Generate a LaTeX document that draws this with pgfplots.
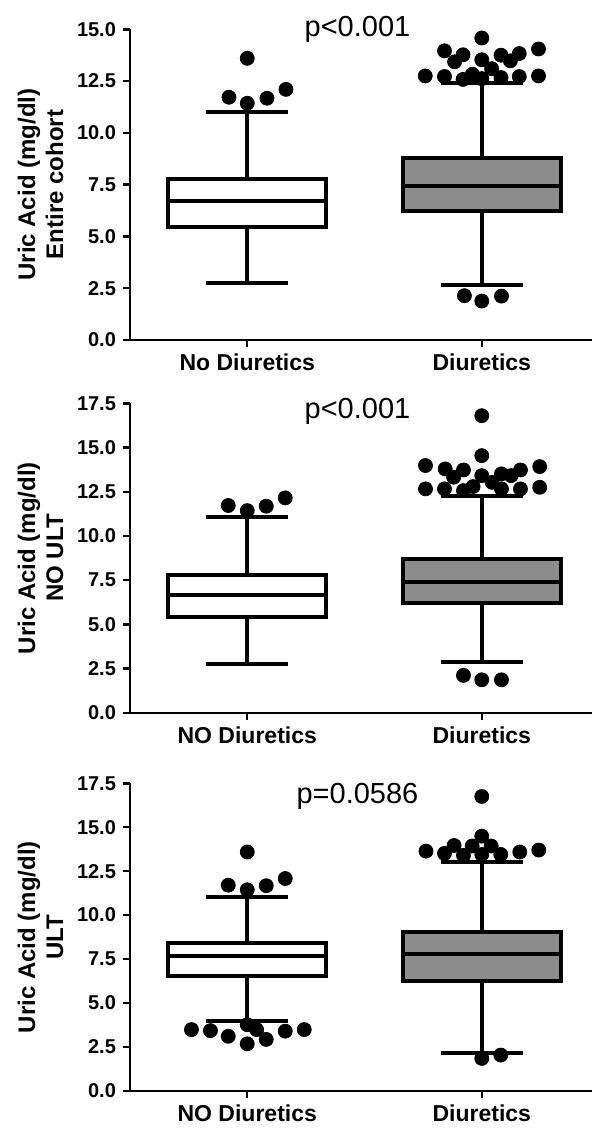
\documentclass[border=0pt]{standalone}
\usepackage{fontspec}
\setmainfont{Liberation Sans}
\usepackage{pgfplots}
\pgfplotsset{compat=1.18}
\usepgfplotslibrary{statistics}
\definecolor{boxgray}{RGB}{140,140,140}

\pgfplotsset{
  uaplot/.style={
    scale only axis, width=231pt,
    xmin=-0.5, xmax=1.47, ymin=0,
    axis x line=bottom, axis y line=left,
    axis line style={-, line width=1.2pt},
    every tick/.style={line width=1.2pt, black},
    tick align=outside, major tick length=3.5pt,
    xtick={0,1},
    yticklabel style={font=\bfseries\fontsize{10}{12}\selectfont,
      /pgf/number format/.cd, fixed, fixed zerofill, precision=1, assume math mode=true},
    xticklabel style={font=\bfseries\fontsize{11.5}{13}\selectfont},
    ylabel style={align=center, font=\bfseries\fontsize{12}{14}\selectfont},
    clip=false,
    boxplot/draw direction=y,
  },
  dots/.style={only marks, mark=*, mark size=3.5pt, black},
  wbox/.style={draw=black, fill=white, line width=2pt, solid},
  gbox/.style={draw=black, fill=boxgray, line width=2pt, solid},
}
\tikzset{pval/.style={font=\fontsize{14.5}{16}\selectfont}}

\begin{document}
\begin{tikzpicture}
\useasboundingbox (0,0) rectangle (296pt,-565pt);

% Entire cohort
\begin{axis}[uaplot, at={(65pt,-170pt)}, anchor=south west, height=155.35pt,
  ymax=15, ytick={0,2.5,...,15},
  xticklabels={No Diuretics, Diuretics},
  ylabel={Uric Acid (mg/dl)\\Entire cohort}]
\addplot[wbox, boxplot prepared={draw position=0, lower whisker=2.74, lower quartile=5.47,
  median=6.71, upper quartile=7.77, upper whisker=11.02, box extend=0.675, whisker extend=0.35}]
  coordinates {};
\addplot[gbox, boxplot prepared={draw position=1, lower whisker=2.66, lower quartile=6.24,
  median=7.45, upper quartile=8.77, upper whisker=12.42, box extend=0.675, whisker extend=0.35}]
  coordinates {};
\addplot[dots] coordinates {
  (0,13.60) (-0.078,11.72) (0,11.43) (0.084,11.67) (0.165,12.10)
  (0.926,2.14) (1,1.88) (1.084,2.12)
  (0.759,12.75) (0.841,13.96) (0.841,12.72) (0.884,13.43) (0.920,13.77) (0.920,12.58)
  (0.960,12.83) (1,14.58) (1,13.53) (1,12.62) (1.042,13.10) (1.082,13.75) (1.082,12.67)
  (1.122,13.48) (1.160,13.83) (1.160,12.72) (1.242,14.05) (1.242,12.75)};
\node[pval] at (axis cs:0.47,15) {p<0.001};
\end{axis}

% NO ULT
\begin{axis}[uaplot, at={(65pt,-356.35pt)}, anchor=south west, height=154.7pt,
  ymax=17.5, ytick={0,2.5,...,17.5},
  xticklabels={NO Diuretics, Diuretics},
  ylabel={Uric Acid (mg/dl)\\NO ULT}]
\addplot[wbox, boxplot prepared={draw position=0, lower whisker=2.73, lower quartile=5.44,
  median=6.63, upper quartile=7.80, upper whisker=11.06, box extend=0.675, whisker extend=0.35}]
  coordinates {};
\addplot[gbox, boxplot prepared={draw position=1, lower whisker=2.86, lower quartile=6.20,
  median=7.42, upper quartile=8.70, upper whisker=12.28, box extend=0.675, whisker extend=0.35}]
  coordinates {};
\addplot[dots] coordinates {
  (-0.081,11.72) (0,11.43) (0.081,11.68) (0.162,12.15)
  (0.922,2.11) (1,1.86) (1.084,1.86)
  (1,16.80) (1,14.54) (0.760,13.98) (1.247,13.92) (0.844,13.79) (0.922,13.73)
  (0.880,13.32) (1,13.41) (1.044,13.03) (1.084,13.51) (1.125,13.41) (1.165,13.73)
  (0.760,12.66) (0.841,12.66) (0.922,12.56) (0.963,12.79) (1.084,12.66) (1.165,12.66) (1.247,12.75)};
\node[pval] at (axis cs:0.47,17.05) {p<0.001};
\end{axis}

% ULT
\begin{axis}[uaplot, at={(65pt,-545.35pt)}, anchor=south west, height=153.7pt,
  ymax=17.5, ytick={0,2.5,...,17.5},
  xticklabels={NO Diuretics, Diuretics},
  ylabel={Uric Acid (mg/dl)\\ULT}]
\addplot[wbox, boxplot prepared={draw position=0, lower whisker=3.95, lower quartile=6.53,
  median=7.66, upper quartile=8.43, upper whisker=11.01, box extend=0.675, whisker extend=0.35}]
  coordinates {};
\addplot[gbox, boxplot prepared={draw position=1, lower whisker=2.13, lower quartile=6.25,
  median=7.77, upper quartile=9.03, upper whisker=13.02, box extend=0.675, whisker extend=0.35}]
  coordinates {};
\addplot[dots] coordinates {
  (0,13.59) (-0.081,11.70) (0,11.44) (0.081,11.67) (0.162,12.08)
  (-0.238,3.48) (-0.157,3.42) (-0.081,3.10) (0,3.76) (0,2.67) (0.040,3.48)
  (0.081,2.92) (0.162,3.39) (0.243,3.48)
  (1,1.84) (1.081,2.03)
  (1,16.75) (1,14.49) (0.762,13.64) (0.841,13.51) (0.882,13.96) (0.922,13.40)
  (0.959,13.93) (1,13.45) (1.040,13.93) (1.081,13.45) (1.162,13.59) (1.243,13.70)};
\node[pval] at (axis cs:0.47,16.75) {p=0.0586};
\end{axis}
\end{tikzpicture}
\end{document}
